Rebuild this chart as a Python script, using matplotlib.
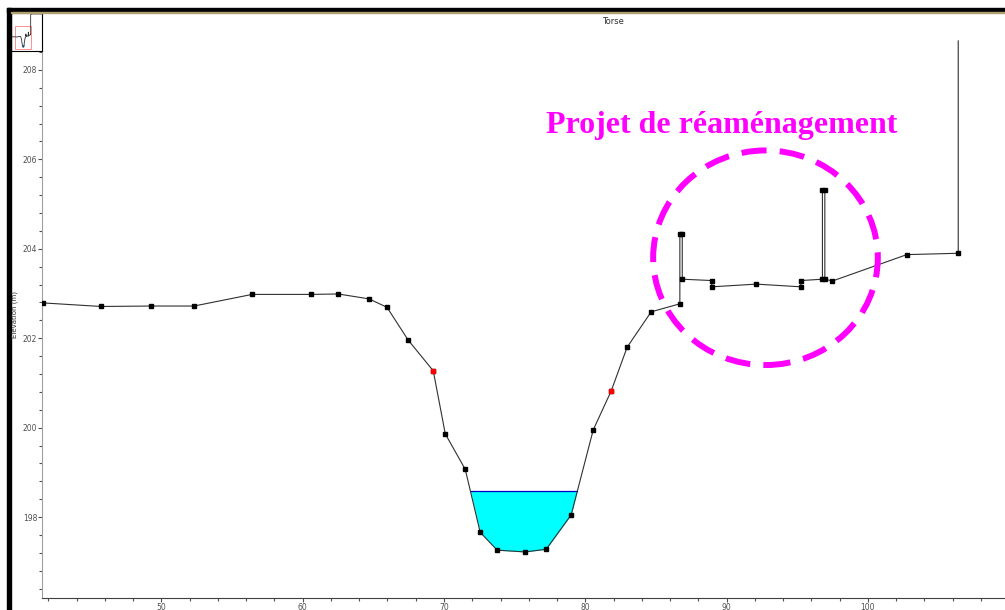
import matplotlib.pyplot as plt
import numpy as np
from matplotlib.patches import Ellipse, Rectangle

# profil en travers (station, cote)
station = [41.62, 45.73, 49.27, 52.31, 56.42, 60.60, 62.51, 64.70, 65.97, 67.46,
           69.24, 70.09, 71.50, 72.56, 73.76, 75.74, 77.23, 79.00, 80.56, 81.83,
           82.96, 84.66, 86.69, 86.69, 86.86, 86.86, 88.95, 88.95, 92.11, 95.25,
           95.25, 96.78, 96.78, 96.95, 96.95, 97.49, 102.75, 106.39, 106.39]
cote = [202.79, 202.71, 202.72, 202.72, 202.98, 202.98, 202.99, 202.88, 202.69, 201.96,
        201.27, 199.86, 199.07, 197.66, 197.26, 197.22, 197.28, 198.05, 199.95, 200.82,
        201.80, 202.59, 202.77, 204.34, 204.34, 203.32, 203.29, 203.15, 203.21, 203.15,
        203.29, 203.32, 205.32, 205.32, 203.32, 203.28, 203.87, 203.90, 208.65]
# points rouges (limites de berge)
rouge_x = [69.24, 81.83]
rouge_y = [201.27, 200.82]

niveau_eau = 198.58
lit = slice(12, 19)  # points du lit mineur

fig = plt.figure(figsize=(10.05, 6.10), dpi=100)
ax = fig.add_axes([42 / 1005, 12 / 610, 963 / 1005, 558 / 610])

x = np.array(station)
y = np.array(cote)

# eau dans le lit
xl, yl = x[lit], y[lit]
xs = np.linspace(xl[0], xl[-1], 400)
ys = np.interp(xs, xl, yl)
ax.fill_between(xs, ys, niveau_eau, where=ys < niveau_eau, interpolate=True,
                color="#00ffff", lw=0, zorder=1)
mouille = np.where(ys < niveau_eau)[0]
ax.plot([xs[mouille[0]], xs[mouille[-1]]], [niveau_eau, niveau_eau],
        color="#0000c0", lw=0.9, zorder=2)

ax.plot(x, y, color="#303030", lw=0.8, zorder=3)
ax.plot(x[:-1], y[:-1], ls="none", marker="s", ms=2.6, color="black", zorder=4)
ax.plot(rouge_x, rouge_y, ls="none", marker="s", ms=2.6, color="red", zorder=5)

# zone du projet
ax.add_patch(Ellipse((92.75, 203.8), 15.9, 4.8, fill=False, ec="#ff00ff",
                     lw=4.3, ls=(0, (4.2, 2.2)), zorder=6))
ax.text(89.68, 206.75, "Projet de réaménagement", color="#ff00ff",
        fontsize=23, fontweight="bold", family="Liberation Serif",
        ha="center", va="center", zorder=7)

ax.set_xlim(41.55, 109.7)
ax.set_ylim(196.19, 208.67)
ax.set_xticks(np.arange(50, 101, 10))
ax.set_xticks(np.arange(42, 110, 2), minor=True)
ax.set_yticks(np.arange(198, 209, 2))
ax.set_yticks(np.arange(196.4, 208.6, 0.4), minor=True)
ax.tick_params(which="both", direction="out", labelsize=5.5, colors="#505050",
               pad=0.5)
ax.tick_params(which="major", length=3, width=0.8)
ax.tick_params(which="minor", length=2, width=0.8)
for s in ("top", "right"):
    ax.spines[s].set_visible(False)
ax.spines["left"].set_color("#a0a0a0")
ax.spines["bottom"].set_color("#404040")

fig.text(613 / 1005, 1 - 22 / 610, "Torse", fontsize=6, color="#303030",
         ha="center", va="center")
fig.text(15 / 1005, 1 - 314 / 610, "Elevation (m)", fontsize=5, color="#303030",
         rotation=90, ha="center", va="center")

# cadre de la fenêtre
fig.patches.append(Rectangle((7 / 1005, 0), 4 / 1005, 602 / 610, color="black",
                             transform=fig.transFigure, figure=fig))
fig.patches.append(Rectangle((7 / 1005, 598 / 610), 998 / 1005, 4 / 610,
                             color="black", transform=fig.transFigure, figure=fig))
fig.patches.append(Rectangle((11 / 1005, 597 / 610), 994 / 1005, 1.2 / 610,
                             color="#b0a070", transform=fig.transFigure, figure=fig))

# vignette de navigation
mini = fig.add_axes([11 / 1005, 1 - 51 / 610, 31 / 1005, 38 / 610])
mini.plot(np.r_[25, x, 106.39, 112, 153], np.r_[cote[0], y, 214.8, 215.2, 215.2],
          color="#303030", lw=0.6)
mini.fill_between(xs, ys, niveau_eau, where=ys < niveau_eau, color="#00a0ff", lw=0)
mini.add_patch(Rectangle((41.5, 196.2), 68, 12.5, fill=False, ec="#ff9090", lw=0.7))
mini.set_xlim(25.5, 153)
mini.set_ylim(195.1, 215.7)
mini.set_xticks([])
mini.set_yticks([])
for s in mini.spines.values():
    s.set_color("black")
    s.set_linewidth(0.8)

fig.savefig("out.png", dpi=100)
